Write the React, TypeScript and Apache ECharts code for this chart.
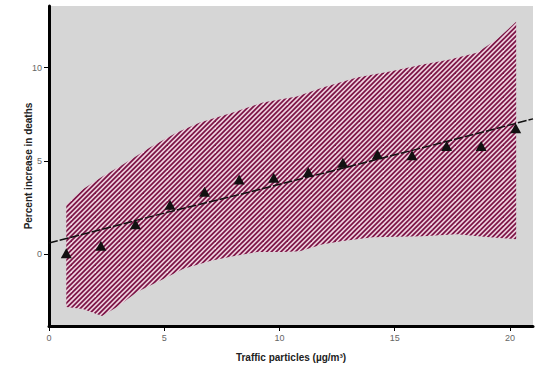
import React, { useEffect, useRef } from "react";
import * as echarts from "echarts";

// Observed points (triangles)
const pointX = [0.75, 2.25, 3.75, 5.25, 6.75, 8.25, 9.75, 11.25, 12.75, 14.25, 15.75, 17.25, 18.75, 20.25];
const pointY = [0.05, 0.45, 1.6, 2.65, 3.35, 4.0, 4.1, 4.4, 4.9, 5.35, 5.3, 5.8, 5.8, 6.75];

// Fitted line
const fitX = [0, 5.25, 8.7, 16.2, 21];
const fitY = [0.6, 2.28, 3.33, 5.7, 7.25];

// Confidence band, upper edge (left to right)
const upperX = [0.75, 1.47, 2.34, 3.21, 4.38, 5.55, 6.55, 7.98, 9.28, 10.75, 11.88, 13.36, 14.79, 16.22, 17.39, 18.56, 19.43, 20.27];
const upperY = [2.65, 3.48, 4.17, 4.81, 5.72, 6.52, 7.06, 7.59, 8.13, 8.45, 8.93, 9.47, 9.79, 10.16, 10.43, 10.8, 11.5, 12.46];

// Confidence band, lower edge (left to right)
const lowerX = [0.75, 1.47, 2.3, 2.95, 3.82, 4.94, 5.81, 6.98, 7.98, 9.02, 10.15, 10.88, 11.88, 12.75, 14.05, 16.22, 17.69, 19.12, 20.27];
const lowerY = [-2.83, -2.94, -3.32, -2.83, -2.03, -1.34, -0.8, -0.37, -0.11, 0.11, 0.11, 0.16, 0.53, 0.7, 0.91, 0.96, 1.07, 0.91, 0.8];

const xTicks = [0, 5, 10, 15, 20];
const yTicks = [0, 5, 10];

const FONT = "'Liberation Sans Narrow', 'Liberation Sans', Arial, sans-serif";

function makeHatch(): HTMLCanvasElement {
  const W = 24;
  const H = 24;
  const c = document.createElement("canvas");
  c.width = W;
  c.height = H;
  const ctx = c.getContext("2d")!;
  ctx.fillStyle = "#f1d6e2";
  ctx.fillRect(0, 0, W, H);
  ctx.strokeStyle = "#7c1647";
  ctx.lineWidth = 1.8;
  const p = 4.8;
  for (let k = -3; k <= 13; k++) {
    const c0 = k * p;
    ctx.beginPath();
    ctx.moveTo(c0 + 12, -12);
    ctx.lineTo(c0 - H - 12, H + 12);
    ctx.stroke();
  }
  return c;
}

export default function App() {
  const ref = useRef<HTMLDivElement>(null);

  useEffect(() => {
    document.body.style.margin = "0";
    if (!ref.current) return;
    const chart = echarts.init(ref.current, null, { renderer: "svg" });
    const hatch = makeHatch();

    const bandData: number[][] = [];
    upperX.forEach((x, i) => bandData.push([x, upperY[i]]));
    for (let i = lowerX.length - 1; i >= 0; i--) bandData.push([lowerX[i], lowerY[i]]);

    chart.setOption({
      animation: false,
      grid: {
        left: 49,
        right: 4,
        top: 6,
        bottom: 40,
        show: true,
        backgroundColor: "#d6d6d6",
        borderWidth: 0,
      },
      xAxis: {
        type: "value",
        min: 0,
        max: 21,
        name: "Traffic particles (µg/m³)",
        nameLocation: "middle",
        nameGap: 26,
        nameMoveOverlap: false,
        nameTextStyle: { fontWeight: "bold", fontSize: 10, color: "#222", fontFamily: FONT },
        axisLine: { show: true, onZero: false, lineStyle: { color: "#000", width: 3 } },
        axisTick: { show: true, length: 5, customValues: xTicks, lineStyle: { color: "#000", width: 1 } },
        axisLabel: { customValues: xTicks, fontSize: 9, color: "#666", margin: 7, fontFamily: FONT },
        splitLine: { show: false },
      },
      yAxis: {
        type: "value",
        min: -3.85,
        max: 13.3,
        name: "Percent increase in deaths",
        nameLocation: "middle",
        nameGap: 16,
        nameMoveOverlap: false,
        nameRotate: 90,
        nameTextStyle: { fontWeight: "bold", fontSize: 10, color: "#222", fontFamily: FONT },
        axisLine: { show: true, onZero: false, lineStyle: { color: "#000", width: 3 } },
        axisTick: { show: true, length: 5, customValues: yTicks, lineStyle: { color: "#000", width: 1 } },
        axisLabel: { customValues: yTicks, fontSize: 9, color: "#666", margin: 7, fontFamily: FONT },
        splitLine: { show: false },
      },
      series: [
        {
          type: "custom",
          z: 1,
          clip: true,
          data: bandData,
          encode: { x: 0, y: 1 },
          renderItem: (params: any, api: any) => {
            if (params.dataIndex !== 0) return null;
            const pts = bandData.map((d) => api.coord(d));
            return {
              type: "polygon",
              shape: { points: pts },
              style: { fill: { type: "pattern", image: hatch, repeat: "repeat" }, stroke: null },
            };
          },
        },
        {
          type: "line",
          z: 2,
          data: fitX.map((x, i) => [x, fitY[i]]),
          showSymbol: false,
          lineStyle: { color: "#111", width: 1.5, type: [9, 2] },
        },
        {
          type: "scatter",
          z: 3,
          symbol: "triangle",
          symbolSize: [11, 10],
          data: pointX.map((x, i) => [x, pointY[i]]),
          itemStyle: { color: "#111", opacity: 1 },
        },
      ],
    });
    return () => chart.dispose();
  }, []);

  return <div ref={ref} style={{ width: 537, height: 367 }} />;
}
